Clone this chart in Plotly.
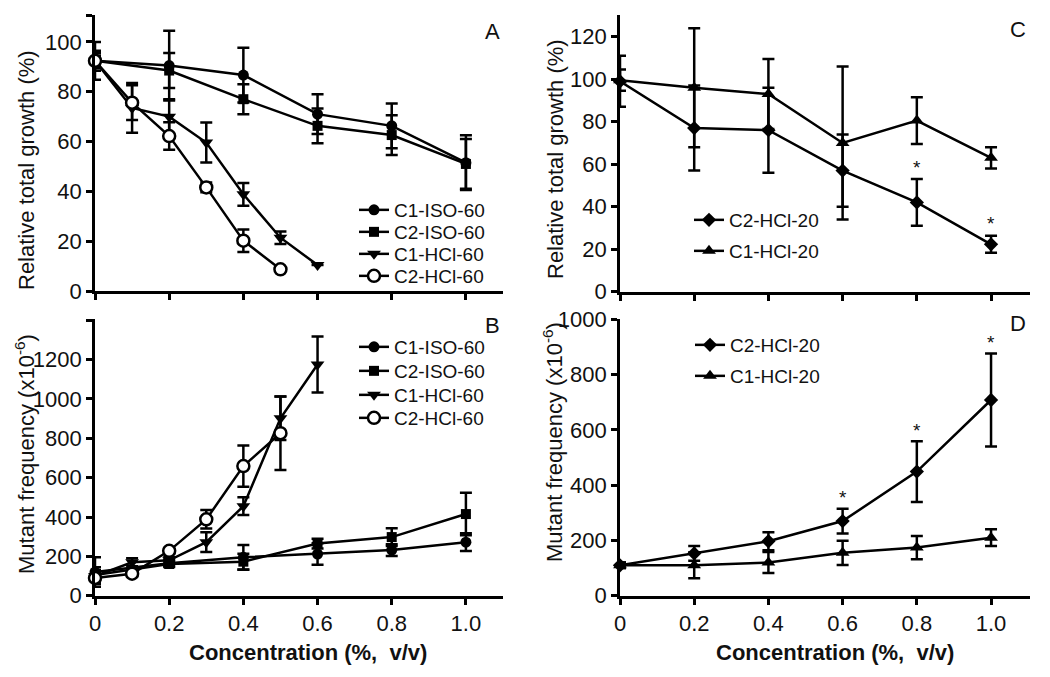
import plotly.graph_objects as go

# ---------------- data ----------------
conc6 = [0, 0.2, 0.4, 0.6, 0.8, 1.0]
conc_c1hcl60 = [0, 0.1, 0.2, 0.3, 0.4, 0.5, 0.6]
conc_c2hcl60 = [0, 0.1, 0.2, 0.3, 0.4, 0.5]

# Panel A: relative total growth (%)
A_c1iso60 = [92.4, 90.5, 86.7, 71.0, 66.3, 51.5]
A_c1iso60_err = [4, 14, 11, 8, 9, 11]
A_c2iso60 = [92.4, 88.5, 77.0, 66.3, 62.6, 51.0]
A_c2iso60_err = [7.6, 7, 6, 7, 8, 10]
A_c1hcl60 = [92.4, 73.5, 70.0, 59.6, 38.8, 21.4, 10.4]
A_c1hcl60_err = [3, 10, 7, 8, 4.6, 2.5, 0]
A_c2hcl60 = [92.4, 75.6, 62.2, 41.6, 20.2, 8.7]
A_c2hcl60_err = [2, 7, 5.5, 2, 4.5, 0]

# Panel B: mutant frequency (x10^-6)
B_c1iso60 = [120, 165, 195, 212, 232, 272]
B_c1iso60_err = [75, 15, 63, 55, 30, 45]
B_c2iso60 = [105, 161, 173, 265, 298, 415]
B_c2iso60_err = [40, 15, 40, 25, 45, 108]
B_c1hcl60 = [100, 170, 180, 272, 455, 902, 1175]
B_c1hcl60_err = [30, 20, 15, 50, 45, 110, 142]
B_c2hcl60 = [90, 112, 228, 388, 659, 826]
B_c2hcl60_err = [30, 15, 15, 47, 105, 187]

# Panel C: relative total growth (%)
C_c2hcl20 = [99.0, 77.0, 76.0, 57.0, 42.0, 22.3]
C_c2hcl20_err = [12, 20, 20, 17, 11, 4]
C_c1hcl20 = [99.5, 96.0, 93.0, 70.0, 80.5, 63.0]
C_c1hcl20_err = [5, 28, 16.5, 36, 11, 5]

# Panel D: mutant frequency (x10^-6)
D_c2hcl20 = [110, 153, 197, 270, 449, 708]
D_c2hcl20_err = [10, 27, 33, 45, 110, 168]
D_c1hcl20 = [110, 110, 120, 155, 174, 210]
D_c1hcl20_err = [10, 47, 38, 44, 42, 30]

# significance marks (indices into conc6 for C2-HCl-20)
C_star_idx = [4, 5]
D_star_idx = [3, 4, 5]

xtick_vals = [0, 0.2, 0.4, 0.6, 0.8, 1.0]
xtick_text = ["0", "0.2", "0.4", "0.6", "0.8", "1.0"]

FONT = "Arial, Liberation Sans, sans-serif"
PAGE_OFF = 8                      # default body margin of the html page
W, H = 1050 - PAGE_OFF, 677 - PAGE_OFF

fig = go.Figure()

def add(x, y, err, name, symbol, xa, ya, legend, open_marker=False, size=11):
    fig.add_trace(go.Scatter(
        x=x, y=y, name=name, mode="lines+markers", showlegend=True,
        xaxis=xa, yaxis=ya, legend=legend, cliponaxis=False,
        line=dict(color="black", width=2.5),
        marker=dict(symbol=symbol, size=size,
                    color="white" if open_marker else "black",
                    line=dict(color="black", width=2.5 if open_marker else 0)),
        error_y=dict(type="data", array=err, visible=True,
                     color="black", thickness=2.5, width=6),
    ))

# Panel A
add(conc6, A_c1iso60, A_c1iso60_err, "C1-ISO-60", "circle", "x", "y", "legend")
add(conc6, A_c2iso60, A_c2iso60_err, "C2-ISO-60", "square", "x", "y", "legend2", size=10)
add(conc_c1hcl60, A_c1hcl60, A_c1hcl60_err, "C1-HCl-60", "triangle-down", "x", "y", "legend3", size=12)
add(conc_c2hcl60, A_c2hcl60, A_c2hcl60_err, "C2-HCl-60", "circle", "x", "y", "legend4", open_marker=True, size=12)
# Panel B
add(conc6, B_c1iso60, B_c1iso60_err, "C1-ISO-60", "circle", "x2", "y2", "legend5")
add(conc6, B_c2iso60, B_c2iso60_err, "C2-ISO-60", "square", "x2", "y2", "legend6", size=10)
add(conc_c1hcl60, B_c1hcl60, B_c1hcl60_err, "C1-HCl-60", "triangle-down", "x2", "y2", "legend7", size=12)
add(conc_c2hcl60, B_c2hcl60, B_c2hcl60_err, "C2-HCl-60", "circle", "x2", "y2", "legend8", open_marker=True, size=12)
# Panel C
add(conc6, C_c2hcl20, C_c2hcl20_err, "C2-HCl-20", "diamond", "x3", "y3", "legend9", size=11)
add(conc6, C_c1hcl20, C_c1hcl20_err, "C1-HCl-20", "triangle-up", "x3", "y3", "legend10", size=12)
# Panel D
add(conc6, D_c2hcl20, D_c2hcl20_err, "C2-HCl-20", "diamond", "x4", "y4", "legend11", size=11)
add(conc6, D_c1hcl20, D_c1hcl20_err, "C1-HCl-20", "triangle-up", "x4", "y4", "legend12", size=12)

# ---------------- layout ----------------
# window pixel -> paper fraction
def px_x(p):
    return (p - PAGE_OFF) / W

def px_y(p):
    return (H - (p - PAGE_OFF)) / H

axis_common = dict(showline=True, linecolor="black", linewidth=2.7,
                   ticks="outside", tickcolor="black", tickwidth=2.5,
                   showgrid=False, zeroline=False, mirror=False, automargin=False,
                   tickfont=dict(family=FONT, size=22, color="#111"))

left_dom = [px_x(95), px_x(503)]
right_dom = [px_x(620), px_x(1030)]
top_dom_A = [px_y(291), px_y(15)]
top_dom_C = [px_y(291.7), px_y(15)]
bot_dom = [px_y(595.7), px_y(319.3)]

fig.update_layout(
    width=W, height=H,
    margin=dict(l=0, r=0, t=0, b=0),
    paper_bgcolor="white", plot_bgcolor="white",
    font=dict(family=FONT, color="#111"),
    showlegend=True,
    xaxis=dict(axis_common, domain=left_dom, anchor="y", range=[0, 1.1],
               tickvals=xtick_vals, showticklabels=False, ticklen=6),
    yaxis=dict(axis_common, domain=top_dom_A, anchor="x", range=[0, 110.8],
               tickvals=[0, 20, 40, 60, 80, 100, 110.8],
               ticktext=["0", "20", "40", "60", "80", "100", ""], ticklen=6),
    xaxis2=dict(axis_common, domain=left_dom, anchor="y2", range=[0, 1.1],
                tickvals=xtick_vals, ticktext=xtick_text, ticklen=6),
    yaxis2=dict(axis_common, domain=bot_dom, anchor="x2", range=[0, 1405],
                tickvals=[0, 200, 400, 600, 800, 1000, 1200, 1400],
                ticktext=["0", "200", "400", "600", "800", "1000", "1200", ""], ticklen=6),
    xaxis3=dict(axis_common, domain=right_dom, anchor="y3", range=[0, 1.105],
                tickvals=xtick_vals, showticklabels=False, ticklen=6),
    yaxis3=dict(axis_common, domain=top_dom_C, anchor="x3", range=[0, 130.2],
                tickvals=[0, 20, 40, 60, 80, 100, 120], ticklen=6),
    xaxis4=dict(axis_common, domain=right_dom, anchor="y4", range=[0, 1.105],
                tickvals=xtick_vals, ticktext=xtick_text, ticklen=6),
    yaxis4=dict(axis_common, domain=bot_dom, anchor="x4", range=[0, 1000],
                tickvals=[0, 200, 400, 600, 800, 1000], ticklen=6),
)

# one legend per entry to reproduce the tight row spacing
legend_pos = {
    "legend": (370, 212), "legend2": (370, 234), "legend3": (370, 256), "legend4": (370, 278),
    "legend5": (370, 349), "legend6": (370, 373), "legend7": (370, 397), "legend8": (370, 420),
    "legend9": (705, 222), "legend10": (705, 253),
    "legend11": (706, 347), "legend12": (706, 378),
}
for key, (lx, ly) in legend_pos.items():
    fig.update_layout({key: dict(x=px_x(lx - 16), y=px_y(ly - 2), xanchor="left", yanchor="middle",
                                 bgcolor="rgba(0,0,0,0)", borderwidth=0, visible=True,
                                 font=dict(family=FONT, size=19, color="#111"))})

# axis titles
title_font = dict(family=FONT, size=22, color="#111")
for text, (tx, ty), ang in [
    ("Relative total growth (%)", (26, 170), -90),
    ("Mutant frequency (x10<sup>-6</sup>)", (25, 454), -90),
    ("Relative total growth (%)", (556, 159), -90),
    ("Mutant frequency (x10<sup>-6</sup>)", (553, 442), -90),
    ("<b>Concentration (%,  v/v)</b>", (308, 652), 0),
    ("<b>Concentration (%,  v/v)</b>", (835, 652), 0),
]:
    fig.add_annotation(x=px_x(tx), y=px_y(ty), xref="paper", yref="paper", text=text,
                       textangle=ang, showarrow=False, xanchor="center", yanchor="middle",
                       font=title_font)

# panel letters
for letter, (lx, ly) in {"A": (492, 32), "B": (492, 325), "C": (1018, 30), "D": (1018, 323)}.items():
    fig.add_annotation(x=px_x(lx), y=px_y(ly), xref="paper", yref="paper", text=letter,
                       showarrow=False, xanchor="center", yanchor="middle",
                       font=dict(family=FONT, size=22, color="#111"))

# significance asterisks above upper error bars
for i in C_star_idx:
    fig.add_annotation(x=conc6[i], y=C_c2hcl20[i] + C_c2hcl20_err[i], xref="x3", yref="y3",
                       text="*", showarrow=False, yanchor="middle", yshift=12,
                       font=dict(family=FONT, size=19, color="#111"))
for i in D_star_idx:
    fig.add_annotation(x=conc6[i], y=D_c2hcl20[i] + D_c2hcl20_err[i], xref="x4", yref="y4",
                       text="*", showarrow=False, yanchor="middle", yshift=11,
                       font=dict(family=FONT, size=19, color="#111"))

fig.write_html("out.html")
